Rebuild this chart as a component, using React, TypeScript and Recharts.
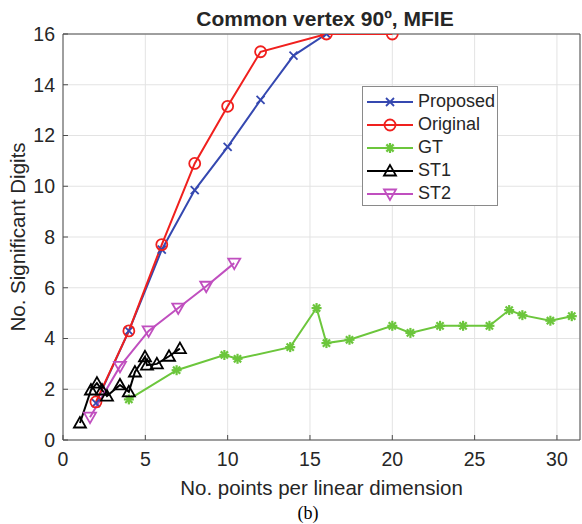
import {
    LineChart,
    Line,
    XAxis,
    YAxis,
    CartesianGrid,
    ReferenceLine,
} from "recharts";

// values
const proposedX = [2, 4, 6, 8, 10, 12, 14, 16];
const proposedY = [1.45, 4.3, 7.5, 9.85, 11.55, 13.4, 15.15, 16];

const originalX = [2, 4, 6, 8, 10, 12, 16, 20];
const originalY = [1.5, 4.3, 7.7, 10.9, 13.15, 15.3, 16, 16];

const gtX = [4, 6.9, 9.8, 10.6, 13.8, 15.4, 16, 17.4, 20, 21.1, 22.9, 24.3, 25.9, 27.1, 27.9, 29.6, 30.9];
const gtY = [1.6, 2.75, 3.35, 3.2, 3.66, 5.2, 3.82, 3.95, 4.5, 4.22, 4.5, 4.5, 4.5, 5.12, 4.92, 4.7, 4.88];

const st1X = [1.03, 1.7, 2.06, 2.37, 2.67, 3.46, 4.0, 4.37, 4.98, 5.1, 5.7, 6.44, 7.1];
const st1Y = [0.67, 1.97, 2.24, 1.97, 1.73, 2.17, 1.9, 2.68, 3.28, 2.95, 3.0, 3.3, 3.6];

const st2X = [1.64, 3.46, 5.2, 7.0, 8.7, 10.4];
const st2Y = [0.9, 2.9, 4.3, 5.2, 6.06, 6.97];

const xTicks = [0, 5, 10, 15, 20, 25, 30];
const yTicks = [0, 2, 4, 6, 8, 10, 12, 14, 16];

const FONT = '"Liberation Sans", Arial, Helvetica, sans-serif';
const TEXT = "#262626";

type Pt = { x: number; y: number };
const zip = (xs: number[], ys: number[]): Pt[] => xs.map((x, i) => ({ x, y: ys[i] }));

type MarkerKind = "cross" | "circle" | "star" | "triUp" | "triDown";

function Marker({ kind, cx, cy, color }: { kind: MarkerKind; cx: number; cy: number; color: string }) {
    const sw = 1.8;
    if (kind === "cross") {
        const d = 4;
        return (
            <g stroke={color} strokeWidth={sw}>
                <line x1={cx - d} y1={cy - d} x2={cx + d} y2={cy + d} />
                <line x1={cx - d} y1={cy + d} x2={cx + d} y2={cy - d} />
            </g>
        );
    }
    if (kind === "circle") {
        return <circle cx={cx} cy={cy} r={5.5} fill="none" stroke={color} strokeWidth={sw} />;
    }
    if (kind === "star") {
        const d = 5;
        const e = 3.6;
        return (
            <g stroke={color} strokeWidth={2.2}>
                <line x1={cx - d} y1={cy} x2={cx + d} y2={cy} />
                <line x1={cx} y1={cy - d} x2={cx} y2={cy + d} />
                <line x1={cx - e} y1={cy - e} x2={cx + e} y2={cy + e} />
                <line x1={cx - e} y1={cy + e} x2={cx + e} y2={cy - e} />
            </g>
        );
    }
    const s = kind === "triUp" ? 1 : -1;
    const pts = `${cx},${cy - 6 * s} ${cx - 6},${cy + 4.5 * s} ${cx + 6},${cy + 4.5 * s}`;
    return <polygon points={pts} fill="none" stroke={color} strokeWidth={sw} strokeLinejoin="miter" />;
}

const makeDot = (kind: MarkerKind, color: string) => (props: any) => {
    const { cx, cy, index } = props;
    if (typeof cx !== "number" || typeof cy !== "number") return <g key={`e${index}`} />;
    return (
        <g key={`${kind}${index}`}>
            <Marker kind={kind} cx={cx} cy={cy} color={color} />
        </g>
    );
};

const series = [
    { name: "Proposed", data: zip(proposedX, proposedY), color: "#3548b0", kind: "cross" as MarkerKind },
    { name: "Original", data: zip(originalX, originalY), color: "#f0201e", kind: "circle" as MarkerKind },
    { name: "GT", data: zip(gtX, gtY), color: "#6cc63c", kind: "star" as MarkerKind },
    { name: "ST1", data: zip(st1X, st1Y), color: "#000000", kind: "triUp" as MarkerKind },
    { name: "ST2", data: zip(st2X, st2Y), color: "#c04fbf", kind: "triDown" as MarkerKind },
];

// legend drawn as a plain html box over the plot
function LegendBox() {
    return (
        <div
            style={{
                position: "absolute",
                left: 362,
                top: 86,
                width: 136,
                height: 120,
                border: "1px solid #8a8a8a",
                background: "#fff",
                boxSizing: "border-box",
                paddingTop: 3,
                fontFamily: FONT,
                fontSize: 18,
                color: TEXT,
            }}
        >
            {series.map((s) => (
                <div key={s.name} style={{ display: "flex", alignItems: "center", height: 23 }}>
                    <svg width={54} height={20} style={{ flex: "none" }}>
                        <line x1={4} y1={10} x2={50} y2={10} stroke={s.color} strokeWidth={2} />
                        <Marker kind={s.kind} cx={27} cy={10} color={s.color} />
                    </svg>
                    <span style={{ marginLeft: 1 }}>{s.name}</span>
                </div>
            ))}
        </div>
    );
}

const tickStyle = { fontSize: 19.5, fill: TEXT, fontFamily: FONT };

export default function App() {
    return (
        <div style={{ position: "absolute", left: 0, top: 0, width: 582, height: 524, background: "#fff" }}>
            <LineChart
                width={582}
                height={524}
                margin={{ top: 34, right: 2, left: 18, bottom: 54 }}
                style={{ position: "absolute", left: 0, top: 0 }}
            >
                <CartesianGrid stroke="#e3e3e3" strokeWidth={1} />
                <XAxis
                    type="number"
                    dataKey="x"
                    domain={[0, 31.4]}
                    ticks={xTicks}
                    allowDataOverflow
                    height={30}
                    tick={tickStyle}
                    tickSize={-5}
                    tickMargin={17}
                    stroke="#4d4d4d"
                    label={{
                        value: "No. points per linear dimension",
                        position: "insideBottom",
                        offset: -25,
                        style: { fontSize: 20.5, fill: TEXT, fontFamily: FONT },
                    }}
                />
                <YAxis
                    type="number"
                    dataKey="y"
                    domain={[0, 16]}
                    ticks={yTicks}
                    allowDataOverflow
                    width={45}
                    tick={tickStyle}
                    tickSize={-5}
                    tickMargin={13}
                    stroke="#4d4d4d"
                    label={{
                        value: "No. Significant Digits",
                        angle: -90,
                        position: "insideLeft",
                        offset: 0,
                        style: { fontSize: 20.5, fill: TEXT, fontFamily: FONT, textAnchor: "middle" },
                    }}
                />
                <ReferenceLine y={16} stroke="#4d4d4d" />
                <ReferenceLine x={31.4} stroke="#4d4d4d" />
                {series.map((s) => (
                    <Line
                        key={s.name}
                        name={s.name}
                        data={s.data}
                        dataKey="y"
                        stroke={s.color}
                        strokeWidth={2}
                        dot={makeDot(s.kind, s.color)}
                        activeDot={false}
                        isAnimationActive={false}
                    />
                ))}
            </LineChart>
            <div
                style={{
                    position: "absolute",
                    left: 0,
                    width: 650,
                    top: 7,
                    textAlign: "center",
                    fontFamily: FONT,
                    fontWeight: "bold",
                    fontSize: 21,
                    color: TEXT,
                    whiteSpace: "nowrap",
                }}
            >
                Common vertex 90º, MFIE
            </div>
            <LegendBox />
            <div
                style={{
                    position: "absolute",
                    left: 0,
                    width: 616,
                    top: 503,
                    textAlign: "center",
                    fontFamily: '"Liberation Serif", "Times New Roman", serif',
                    fontSize: 18,
                    color: "#000",
                }}
            >
                (b)
            </div>
        </div>
    );
}
